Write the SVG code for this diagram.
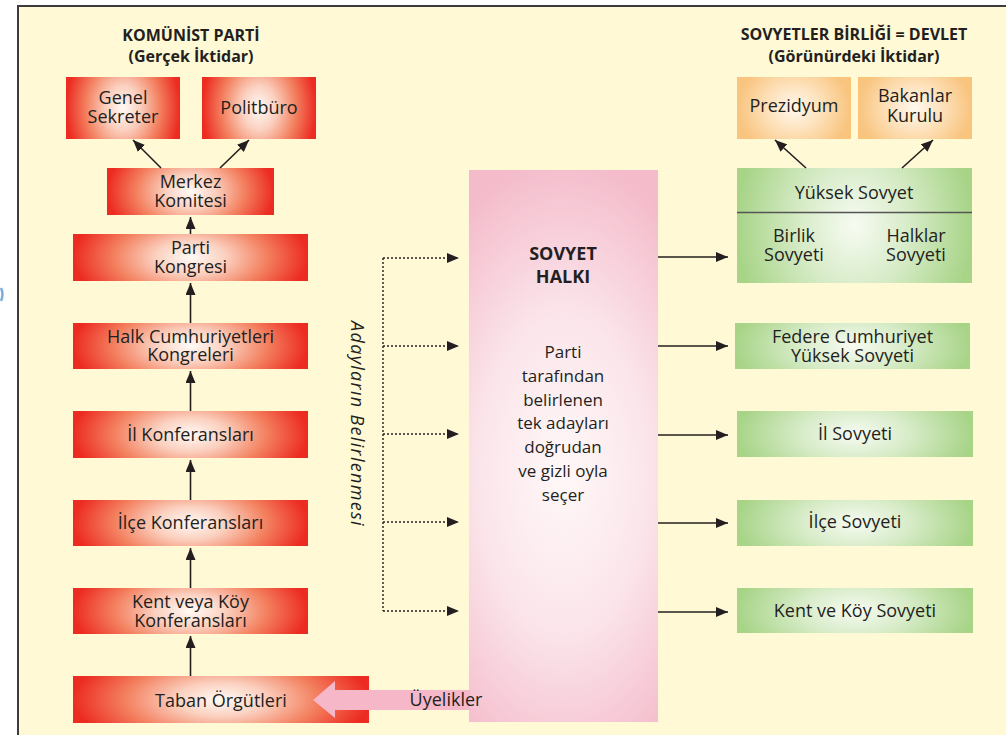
<svg xmlns="http://www.w3.org/2000/svg" width="1006" height="735" viewBox="0 0 1006 735">
<defs>
<style>
text{font-family:"Open Sans","Noto Sans","Liberation Sans",sans-serif;fill:#231f20;text-anchor:middle}
.lbl{font-size:18px}
.ttl{font-size:16px;font-weight:bold}
.big{font-size:18px;font-weight:bold}
.body{font-size:17px}
.vert{font-size:18px;font-style:italic;letter-spacing:1.3px}
.arr{stroke:#231f20;stroke-width:1.6;fill:none}
.dot{stroke:#231f20;stroke-width:1.4;fill:none;stroke-dasharray:2 2}
</style>
<radialGradient id="gRed" cx="0.5" cy="0.5" r="0.5" gradientTransform="translate(0.5,0.5) scale(1,2.4) translate(-0.5,-0.5)">
<stop offset="0" stop-color="#fffaf6"/>
<stop offset="0.3" stop-color="#fbd0bf"/>
<stop offset="0.65" stop-color="#f3805f"/>
<stop offset="1" stop-color="#ec2b22"/>
</radialGradient>
<radialGradient id="gGreen" cx="0.5" cy="0.5" r="0.5" gradientTransform="translate(0.5,0.5) scale(1,2.4) translate(-0.5,-0.5)">
<stop offset="0" stop-color="#f7fbf2"/>
<stop offset="0.45" stop-color="#d8ecc9"/>
<stop offset="1" stop-color="#a8d488"/>
</radialGradient>
<radialGradient id="gOrange" cx="0.5" cy="0.5" r="0.5" gradientTransform="translate(0.5,0.5) scale(1,1.6) translate(-0.5,-0.5)">
<stop offset="0" stop-color="#fff8ee"/>
<stop offset="0.5" stop-color="#fde0b8"/>
<stop offset="1" stop-color="#f9c47e"/>
</radialGradient>
<radialGradient id="gPink" cx="0.5" cy="0.55" r="0.5" gradientTransform="translate(0.5,0.55) scale(1.8,1.15) translate(-0.5,-0.55)">
<stop offset="0" stop-color="#fff8f8"/>
<stop offset="0.5" stop-color="#fbe5ea"/>
<stop offset="1" stop-color="#f4bbcb"/>
</radialGradient>
<marker id="ah" viewBox="0 0 12 10" refX="12" refY="5" markerWidth="12" markerHeight="10" markerUnits="userSpaceOnUse" orient="auto">
<path d="M0,0 L12,5 L0,10 z" fill="#231f20"/>
</marker>
</defs>

<rect x="0" y="0" width="1006" height="735" fill="#ffffff"/>
<rect x="18" y="6" width="988" height="729" fill="#fff9d5"/>
<path d="M18,735 L18,6 L1006,6" stroke="#3c3c3c" stroke-width="2" fill="none"/>
<path d="M1,288 Q4,294 1,301" stroke="#7aaee0" stroke-width="2.5" fill="none"/>

<g id="titles">
<text class="ttl" x="191" y="41">KOMÜNİST PARTİ</text>
<text class="ttl" x="191" y="62">(Gerçek İktidar)</text>
<text class="ttl" x="854" y="40">SOVYETLER BİRLİĞİ = DEVLET</text>
<text class="ttl" x="854" y="62">(Görünürdeki İktidar)</text>
</g>

<g id="pink-column">
<rect x="469" y="170" width="189" height="552" fill="url(#gPink)"/>
<text class="big" x="563" y="260">SOVYET</text>
<text class="big" x="563" y="283">HALKI</text>
<text class="body" x="563" y="358">Parti</text>
<text class="body" x="563" y="382">tarafından</text>
<text class="body" x="563" y="406">belirlenen</text>
<text class="body" x="563" y="429">tek adayları</text>
<text class="body" x="563" y="453">doğrudan</text>
<text class="body" x="563" y="477">ve gizli oyla</text>
<text class="body" x="563" y="501">seçer</text>
</g>

<g id="genel-sekreter">
<rect x="66" y="77" width="114" height="62" fill="url(#gRed)"/>
<text class="lbl" x="123" y="104">Genel</text>
<text class="lbl" x="123" y="123">Sekreter</text>
</g>
<g id="politburo">
<rect x="202" y="77" width="114" height="62" fill="url(#gRed)"/>
<text class="lbl" x="259" y="114">Politbüro</text>
</g>
<g id="merkez-komitesi">
<rect x="107" y="168" width="167" height="47" fill="url(#gRed)"/>
<text class="lbl" x="190.5" y="188">Merkez</text>
<text class="lbl" x="190.5" y="207">Komitesi</text>
</g>
<g id="parti-kongresi">
<rect x="73" y="234" width="235" height="47" fill="url(#gRed)"/>
<text class="lbl" x="190.5" y="254">Parti</text>
<text class="lbl" x="190.5" y="273">Kongresi</text>
</g>
<g id="halk-cumhuriyetleri">
<rect x="73" y="323" width="235" height="46" fill="url(#gRed)"/>
<text class="lbl" x="190.5" y="343">Halk Cumhuriyetleri</text>
<text class="lbl" x="190.5" y="361">Kongreleri</text>
</g>
<g id="il-konferanslari">
<rect x="73" y="411" width="235" height="47" fill="url(#gRed)"/>
<text class="lbl" x="190.5" y="441">İl Konferansları</text>
</g>
<g id="ilce-konferanslari">
<rect x="73" y="500" width="235" height="46" fill="url(#gRed)"/>
<text class="lbl" x="190.5" y="529">İlçe Konferansları</text>
</g>
<g id="kent-koy-konferanslari">
<rect x="73" y="588" width="235" height="46" fill="url(#gRed)"/>
<text class="lbl" x="190.5" y="608">Kent veya Köy</text>
<text class="lbl" x="190.5" y="627">Konferansları</text>
</g>
<g id="taban-orgutleri">
<rect x="73" y="676" width="296" height="47" fill="url(#gRed)"/>
<text class="lbl" x="221" y="707">Taban Örgütleri</text>
</g>

<g id="prezidyum">
<rect x="737" y="77" width="114" height="62" fill="url(#gOrange)"/>
<text class="lbl" x="794" y="112">Prezidyum</text>
</g>
<g id="bakanlar-kurulu">
<rect x="858" y="77" width="114" height="62" fill="url(#gOrange)"/>
<text class="lbl" x="915" y="102">Bakanlar</text>
<text class="lbl" x="915" y="122">Kurulu</text>
</g>
<g id="yuksek-sovyet">
<rect x="737" y="168" width="235" height="115" fill="url(#gGreen)"/>
<line x1="737" y1="212.5" x2="972" y2="212.5" stroke="#555" stroke-width="1.5"/>
<text class="lbl" x="854" y="199">Yüksek Sovyet</text>
<text class="lbl" x="794" y="242">Birlik</text>
<text class="lbl" x="794" y="261">Sovyeti</text>
<text class="lbl" x="916" y="242">Halklar</text>
<text class="lbl" x="916" y="261">Sovyeti</text>
</g>
<g id="federe-cumhuriyet">
<rect x="735" y="323" width="235" height="46" fill="url(#gGreen)"/>
<text class="lbl" x="852.5" y="343">Federe Cumhuriyet</text>
<text class="lbl" x="852.5" y="362">Yüksek Sovyeti</text>
</g>
<g id="il-sovyeti">
<rect x="737" y="411" width="236" height="46" fill="url(#gGreen)"/>
<text class="lbl" x="855" y="440">İl Sovyeti</text>
</g>
<g id="ilce-sovyeti">
<rect x="737" y="500" width="236" height="46" fill="url(#gGreen)"/>
<text class="lbl" x="855" y="528">İlçe Sovyeti</text>
</g>
<g id="kent-koy-sovyeti">
<rect x="737" y="588" width="236" height="45" fill="url(#gGreen)"/>
<text class="lbl" x="855" y="617">Kent ve Köy Sovyeti</text>
</g>

<g id="connectors">
<line class="arr" x1="190.5" y1="676" x2="190.5" y2="636" marker-end="url(#ah)"/>
<line class="arr" x1="190.5" y1="588" x2="190.5" y2="548" marker-end="url(#ah)"/>
<line class="arr" x1="190.5" y1="500" x2="190.5" y2="460" marker-end="url(#ah)"/>
<line class="arr" x1="190.5" y1="411" x2="190.5" y2="371" marker-end="url(#ah)"/>
<line class="arr" x1="190.5" y1="323" x2="190.5" y2="283" marker-end="url(#ah)"/>
<line class="arr" x1="190.5" y1="234" x2="190.5" y2="217" marker-end="url(#ah)"/>
<line class="arr" x1="161" y1="168" x2="133" y2="140" marker-end="url(#ah)"/>
<line class="arr" x1="220" y1="168" x2="249" y2="140" marker-end="url(#ah)"/>
<line class="arr" x1="806" y1="168" x2="775" y2="140" marker-end="url(#ah)"/>
<line class="arr" x1="902" y1="168" x2="933" y2="140" marker-end="url(#ah)"/>
<line class="arr" x1="658" y1="257" x2="728" y2="257" marker-end="url(#ah)"/>
<line class="arr" x1="658" y1="346" x2="728" y2="346" marker-end="url(#ah)"/>
<line class="arr" x1="658" y1="435" x2="728" y2="435" marker-end="url(#ah)"/>
<line class="arr" x1="658" y1="523" x2="728" y2="523" marker-end="url(#ah)"/>
<line class="arr" x1="658" y1="612" x2="728" y2="612" marker-end="url(#ah)"/>
<line class="dot" x1="383" y1="258" x2="383" y2="611"/>
<line class="dot" x1="383" y1="258" x2="459" y2="258" marker-end="url(#ah)"/>
<line class="dot" x1="383" y1="346" x2="459" y2="346" marker-end="url(#ah)"/>
<line class="dot" x1="383" y1="434" x2="459" y2="434" marker-end="url(#ah)"/>
<line class="dot" x1="383" y1="522" x2="459" y2="522" marker-end="url(#ah)"/>
<line class="dot" x1="383" y1="611" x2="459" y2="611" marker-end="url(#ah)"/>
<polygon points="470,690 335,690 335,681 313,700 335,718 335,710 470,710" fill="#f6b8c8"/>
<text class="vert" transform="translate(351,424) rotate(90)" x="0" y="0">Adayların Belirlenmesi</text>
<text class="lbl" x="446" y="706">Üyelikler</text>
</g>
</svg>
